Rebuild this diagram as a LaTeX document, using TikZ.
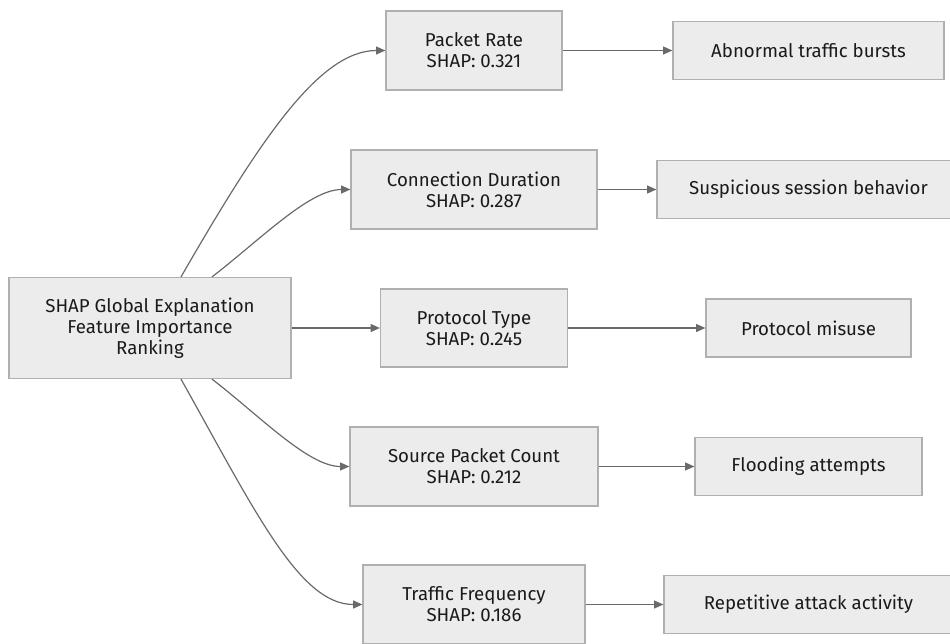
\documentclass[tikz,border=0pt]{standalone}
\usepackage{fontspec}
\setmainfont{Fira Sans}
\usetikzlibrary{arrows.meta,calc}
\definecolor{boxfill}{HTML}{ECECEC}
\definecolor{boxline}{HTML}{B0B0B0}
\definecolor{edgecol}{HTML}{6A6A6A}
\definecolor{txt}{HTML}{1A1A1A}
\begin{document}
\begin{tikzpicture}[x=0.75pt,y=-0.75pt,
  box/.style 2 args={draw=boxline, line width=0.9pt, fill=boxfill, rectangle, align=center,
     inner sep=0pt, text=txt, font=\fontsize{14}{15.6}\selectfont,
     minimum width=#1*0.75pt, minimum height=#2*0.75pt},
  edge/.style={draw=edgecol, line width=0.9pt, -{Triangle[length=7pt,width=6pt]}}]
\useasboundingbox (0,0) rectangle (950,643);

\node[box={282}{101}] (root) at (150,328) {SHAP Global Explanation\\Feature Importance\\Ranking};

\node[box={176}{79}] (pr) at (474,50.5) {Packet Rate\\SHAP: 0.321};
\node[box={246}{79}] (cd) at (474,189.5) {Connection Duration\\SHAP: 0.287};
\node[box={187}{78}] (pt) at (474,328) {Protocol Type\\SHAP: 0.245};
\node[box={248}{79}] (sp) at (474,466.5) {Source Packet Count\\SHAP: 0.212};
\node[box={222}{79}] (tf) at (474,604.5) {Traffic Frequency\\SHAP: 0.186};

\node[box={271}{58}] (ab) at (808.5,50.5) {Abnormal traffic bursts};
\node[box={303}{58}] (ss) at (808.5,189.5) {Suspicious session behavior};
\node[box={205}{58}] (pm) at (808.5,328) {Protocol misuse};
\node[box={227}{58}] (fa) at (808.5,466.5) {Flooding attempts};
\node[box={289}{58}] (ra) at (808.5,604.5) {Repetitive attack activity};

\draw[edge] ($(root.north)+(31,0)$) .. controls +(79,-137) and +(-66,0) .. (pr.west);
\draw[edge] ($(root.north)+(62,0)$) .. controls +(48,-37) and +(-41,0) .. (cd.west);
\draw[edge] (root.east) -- (pt.west);
\draw[edge] ($(root.south)+(62,0)$) .. controls +(48,37) and +(-41,0) .. (sp.west);
\draw[edge] ($(root.south)+(31,0)$) .. controls +(74,132) and +(-63,0) .. (tf.west);

\draw[edge] (pr.east) -- (ab.west);
\draw[edge] (cd.east) -- (ss.west);
\draw[edge] (pt.east) -- (pm.west);
\draw[edge] (sp.east) -- (fa.west);
\draw[edge] (tf.east) -- (ra.west);
\end{tikzpicture}
\end{document}
